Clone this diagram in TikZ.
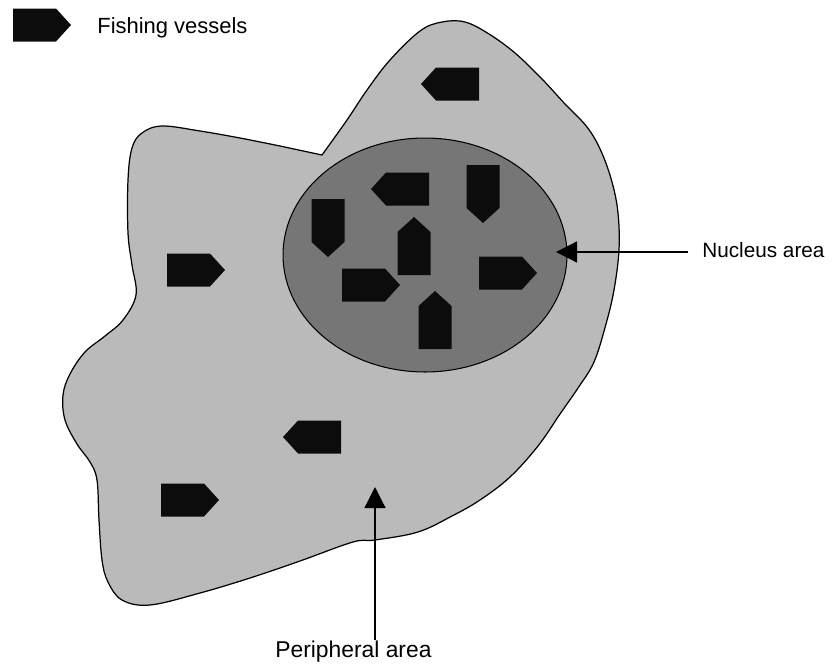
\documentclass[tikz,border=0pt]{standalone}
\usepackage{fontspec}
\setmainfont{Liberation Sans}
\usetikzlibrary{shapes.geometric,arrows.meta,positioning}
\definecolor{outerarea}{RGB}{186,186,186}
\definecolor{innerarea}{RGB}{118,118,118}
\definecolor{hull}{RGB}{12,12,12}

\begin{document}
\begin{tikzpicture}[x=0.02cm, y=-0.02cm]
    \tikzstyle{outer} = [draw=black, fill=outerarea, line width=0.7pt]
    \tikzstyle{nucleus} = [draw=black, ellipse, fill=innerarea, line width=0.6pt, minimum width=5.68cm, minimum height=4.68cm, inner sep=0pt]
    \tikzstyle{areatext} = [inner sep=0pt, anchor=base west, font=\fontsize{12.5}{15}\selectfont]
    \tikzstyle{pointer} = [-{Triangle[length=12pt, width=12pt]}, line width=0.7pt]
    \tikzset{vessel/.pic={\fill[hull] (-29,-16.5) -- (14,-16.5) -- (29,0) -- (14,16.5) -- (-29,16.5) -- cycle;}}

    \useasboundingbox (0,0) rectangle (840,664);

    % legend
    \pic at (42,25) {vessel};
    \node [areatext] (legend) at (97,33) {Fishing vessels};

    % peripheral area
    \filldraw [outer] plot [smooth, tension=0.6] coordinates {(322,155) (347,120) (367,90) (390,60) (420,31) (442,22) (465,22) (489,34) (515,53) (542,79) (565,104) (587,127) (601,151) (612,182) (618,213) (619,250) (614,290) (606,324) (594,362) (578,388) (560,414) (538,446) (510,477) (480,500) (452,516) (418,532) (375,540) (353,542) (300,561) (250,578) (200,593) (150,605) (122,600) (108,582) (102,560) (99,520) (97,480) (90,462) (77,444) (65,420) (63,395) (70,374) (85,352) (105,336) (123,320) (136,295) (132,265) (128,233) (128,180) (132,148) (142,133) (162,126) (200,131) (240,138) (280,146)} -- cycle;

    % nucleus area
    \node [nucleus] (core) at (425,255) {};

    % vessels outside the nucleus
    \pic [rotate=180] at (450,84) {vessel};
    \pic at (196,270) {vessel};
    \pic [rotate=180] at (312,437) {vessel};
    \pic at (190,500) {vessel};

    % vessels inside the nucleus
    \pic [rotate=180] at (400,189) {vessel};
    \pic [rotate=-90] at (483,194) {vessel};
    \pic [rotate=-90] at (328,228) {vessel};
    \pic [rotate=90] at (414,246) {vessel};
    \pic at (371,285) {vessel};
    \pic at (508,273) {vessel};
    \pic [rotate=90] at (435,320) {vessel};

    % labels
    \node [areatext, font=\fontsize{11.8}{14}\selectfont] (nuclabel) at (702,257) {Nucleus area};
    \node [areatext, font=\fontsize{13}{15}\selectfont] (perilabel) at (275,657) {Peripheral area};
    \coordinate (nuctip) at (556,252);
    \coordinate (peritip) at (375,487);

    \draw [pointer, shorten <=8pt] (nuclabel.west |- nuctip) -- (nuctip);
    \draw [pointer] (peritip |- perilabel.north) -- (peritip);
\end{tikzpicture}
\end{document}
